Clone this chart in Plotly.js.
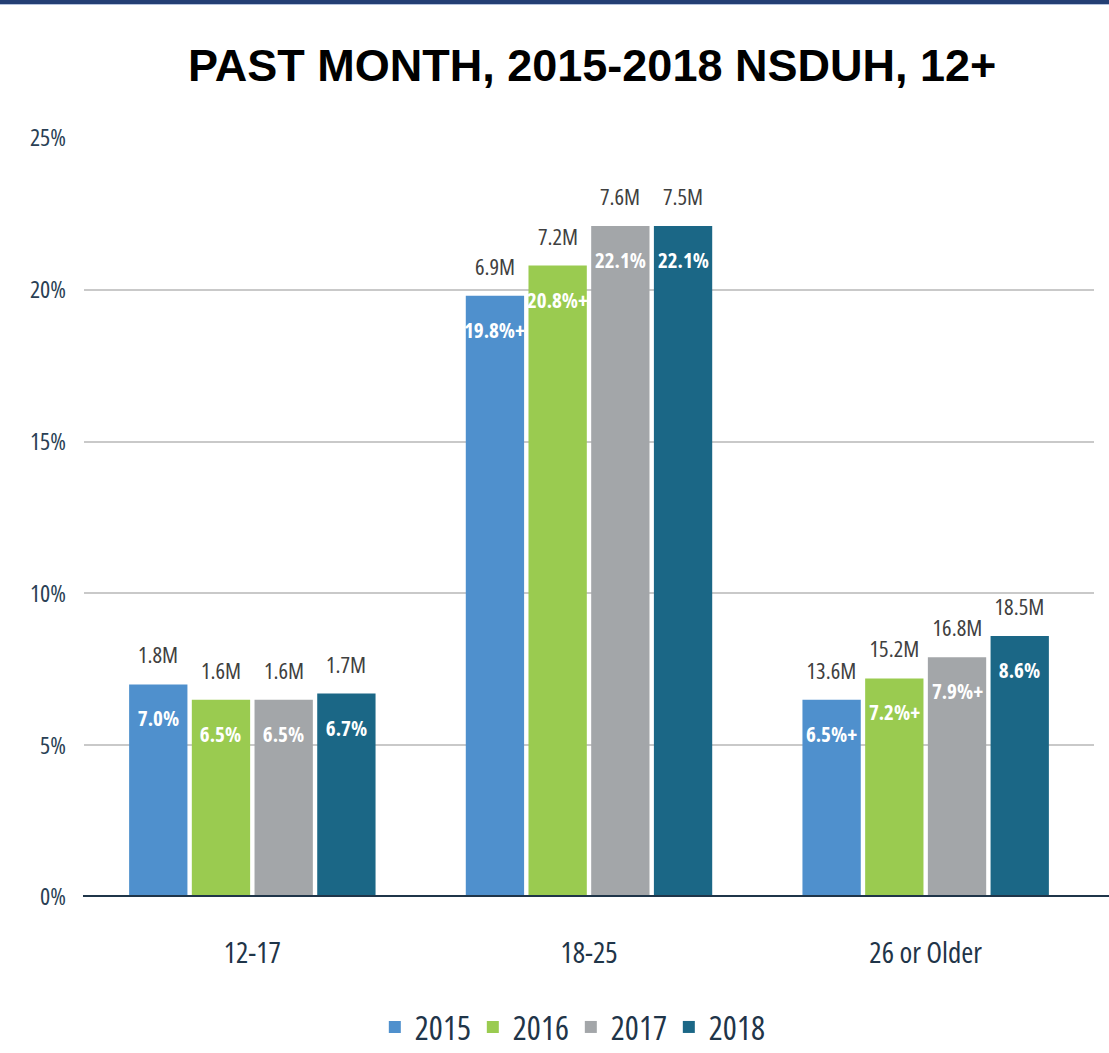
<!DOCTYPE html>
<html>
<head>
<meta charset="utf-8">
<script src="https://cdn.plot.ly/plotly-3.0.1.min.js"></script>
<style>
html,body{margin:0;padding:0;background:#fff;}
#chart{width:1109px;height:1053px;}
#chart .xtick text, #chart .ytick text, #chart .legendtext, #chart .annotation-text { font-stretch: 75% !important; }
</style>
</head>
<body>
<div id="chart"></div>
<script>
const categories = ["12-17", "18-25", "26 or Older"];
const years = ["2015", "2016", "2017", "2018"];
const colors = ["#4f90cd", "#9acb50", "#a3a6a9", "#1b6786"];
const pct2015 = [7.0, 19.8, 6.5];
const pct2016 = [6.5, 20.8, 7.2];
const pct2017 = [6.5, 22.1, 7.9];
const pct2018 = [6.7, 22.1, 8.6];
const pctLabels2015 = ["7.0%", "19.8%+", "6.5%+"];
const pctLabels2016 = ["6.5%", "20.8%+", "7.2%+"];
const pctLabels2017 = ["6.5%", "22.1%", "7.9%+"];
const pctLabels2018 = ["6.7%", "22.1%", "8.6%"];
const count2015 = ["1.8M", "6.9M", "13.6M"];
const count2016 = ["1.6M", "7.2M", "15.2M"];
const count2017 = ["1.6M", "7.6M", "16.8M"];
const count2018 = ["1.7M", "7.5M", "18.5M"];
const yTickVals = [0, 5, 10, 15, 20, 25];
const yTickText = ["0%", "5%", "10%", "15%", "20%", "25%"];

const pcts = [pct2015, pct2016, pct2017, pct2018];
const pctLabels = [pctLabels2015, pctLabels2016, pctLabels2017, pctLabels2018];
const counts = [count2015, count2016, count2017, count2018];

const FONT = '"Open Sans", sans-serif';
const NAVY = "#1f3549";
const bargap = 0.255;
const bargroupgap = 0.07;

const traces = years.map((yr, i) => ({
  type: "bar",
  name: yr,
  x: categories,
  y: pcts[i],
  marker: { color: colors[i] },
  hoverinfo: "skip"
}));

const annotations = [];
const slot = (1 - bargap) / years.length;
years.forEach((yr, i) => {
  categories.forEach((c, k) => {
    const xpos = k + (i - (years.length - 1) / 2) * slot;
    annotations.push({
      x: xpos, y: pcts[i][k], xref: "x", yref: "y",
      text: "<b>" + pctLabels[i][k] + "</b>",
      showarrow: false, yanchor: "middle", yshift: -34,
      font: { family: FONT, size: 21, color: "#ffffff" }
    });
    annotations.push({
      x: xpos, y: pcts[i][k], xref: "x", yref: "y",
      text: counts[i][k],
      showarrow: false, yanchor: "bottom", yshift: 12,
      font: { family: FONT, size: 22.5, color: "#404040" }
    });
  });
});

const layout = {
  width: 1109, height: 1053,
  margin: { l: 83.5, r: 14.5, t: 138, b: 156 },
  paper_bgcolor: "#ffffff", plot_bgcolor: "#ffffff",
  barmode: "group", bargap: bargap, bargroupgap: bargroupgap,
  title: {
    text: "<b>PAST MONTH, 2015-2018 NSDUH, 12+</b>",
    font: { family: "Liberation Sans, Arial, sans-serif", size: 45, color: "#000000" },
    x: 0.534, xanchor: "center", y: 0.938, yanchor: "middle"
  },
  xaxis: {
    type: "category", range: [-0.5, 2.5], automargin: false,
    showgrid: false, zeroline: false, showline: false, ticks: "",
    tickfont: { family: FONT, size: 29, color: NAVY },
    ticklabelstandoff: 36
  },
  yaxis: {
    range: [0, 25], tickvals: yTickVals, ticktext: yTickText, automargin: false,
    showgrid: true, gridcolor: "#c9c9c9", gridwidth: 2,
    zeroline: false, showline: false, ticks: "",
    tickfont: { family: FONT, size: 24, color: "#2a3f55" },
    ticklabelstandoff: 17
  },
  legend: {
    orientation: "h", x: 0.482, xanchor: "center",
    yref: "container", y: 1 - 1027 / 1053, yanchor: "middle",
    font: { family: FONT, size: 33, color: NAVY },
    entrywidth: 53, entrywidthmode: "pixels", itemclick: false
  },
  annotations: annotations,
  shapes: [
    { type: "line", xref: "paper", yref: "y", x0: -0.001, x1: 1.02, y0: 0, y1: 0,
      line: { color: "#1f3549", width: 4 }, layer: "above" },
    { type: "rect", xref: "paper", yref: "paper", x0: -0.1, x1: 1.02,
      y0: 1 + 134 / 759, y1: 1 + 140 / 759, fillcolor: "#243f74", line: { width: 0 } },
    { type: "rect", xref: "paper", yref: "paper", x0: -0.1, x1: 1.02,
      y0: 1 + 133 / 759, y1: 1 + 134 / 759, fillcolor: "#b4c2dd", line: { width: 0 } }
  ]
};

Plotly.newPlot("chart", traces, layout, { displayModeBar: false, staticPlot: true });
</script>
</body>
</html>
